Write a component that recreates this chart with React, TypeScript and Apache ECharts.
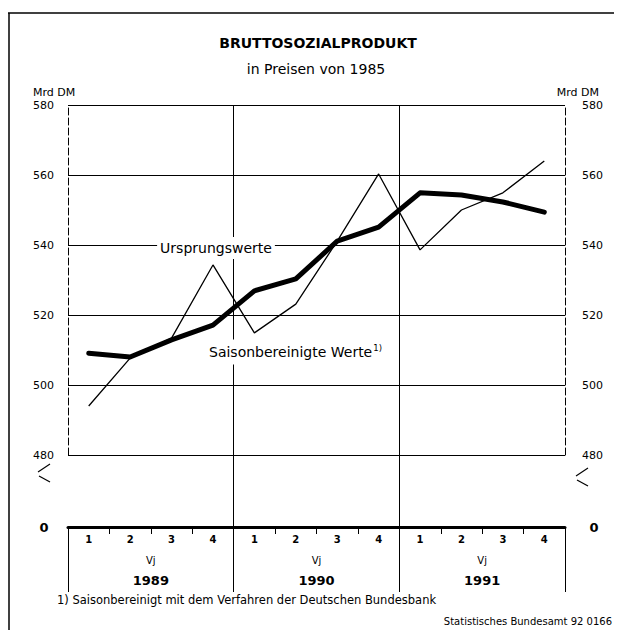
import React, { useEffect, useRef } from "react";
import * as echarts from "echarts";

const quarters = ["1", "2", "3", "4", "1", "2", "3", "4", "1", "2", "3", "4"];
const years = ["1989", "1990", "1991"];
const ursprungswerte = [494, 507.7, 513.4, 534.3, 514.9, 523.1, 541.1, 560.3, 538.6, 550, 554.9, 564];
const saisonbereinigt = [509.1, 508, 512.9, 517.1, 526.9, 530.3, 541.1, 545.1, 554.9, 554.3, 552.3, 549.4];
const yMin = 480;
const yMax = 580;
const yStep = 20;

const FONT = "DejaVu Sans";

export default function App() {
  const ref = useRef<HTMLDivElement>(null);

  useEffect(() => {
    document.body.style.margin = "0";
    const chart = echarts.init(ref.current!, null, { renderer: "svg" });
    const plotGrid = { left: 68, right: 55, top: 105, height: 350 };
    const axisGrid = { left: 68, right: 55, top: 105, height: 422 };
    const black = "#000";
    const breakMark = (x: number, y: number) => [
      { type: "polyline", shape: { points: [[x + 12, y - 8], [x, y]] }, style: { stroke: black, lineWidth: 1.2, fill: "none" } },
      { type: "polyline", shape: { points: [[x + 1, y + 4], [x + 12, y + 10]] }, style: { stroke: black, lineWidth: 1.2, fill: "none" } },
    ];

    chart.setOption({
      animation: false,
      backgroundColor: "#fff",
      textStyle: { fontFamily: FONT, color: black },
      grid: [plotGrid, axisGrid, axisGrid],
      xAxis: [
        { gridIndex: 0, type: "category", data: quarters, boundaryGap: true, show: false },
        {
          gridIndex: 1, type: "value", min: 0, max: 12, interval: 4, position: "top",
          axisLine: { show: false }, axisTick: { show: false }, axisLabel: { show: false },
          splitLine: { show: true, showMinLine: false, showMaxLine: false, lineStyle: { color: black, width: 1 } },
        },
        {
          gridIndex: 1, type: "category", data: quarters, boundaryGap: true, position: "bottom",
          axisLine: { show: true, lineStyle: { color: black, width: 3 } },
          axisTick: { show: true, interval: 0, length: 7, lineStyle: { color: black, width: 1 } },
          axisLabel: { interval: 0, color: black, fontSize: 10, fontWeight: "bold", margin: 7, fontFamily: FONT },
          splitLine: { show: false },
        },
        {
          gridIndex: 2, type: "category", data: years, boundaryGap: true, position: "bottom",
          axisLine: { show: false },
          axisTick: { show: true, interval: 0, length: 65, lineStyle: { color: black, width: 1 } },
          axisLabel: {
            interval: 0, margin: 23,
            formatter: (v: string) => `{v|Vj}\n{y|${v}}`,
            rich: {
              v: { fontSize: 10, color: black, lineHeight: 20, fontFamily: FONT },
              y: { fontSize: 13, fontWeight: "bold", color: black, lineHeight: 20, fontFamily: FONT },
            },
          },
          splitLine: { show: false },
        },
      ],
      yAxis: [
        {
          gridIndex: 0, type: "value", min: yMin, max: yMax, interval: yStep, position: "left",
          axisLine: { show: true, lineStyle: { color: black, width: 1, type: [7, 3] } },
          axisTick: { show: false },
          axisLabel: { color: black, fontSize: 11, margin: 14, fontFamily: FONT },
          splitLine: { show: true, lineStyle: { color: black, width: 1 } },
        },
        {
          gridIndex: 0, type: "value", min: yMin, max: yMax, interval: yStep, position: "right",
          axisLine: { show: true, lineStyle: { color: black, width: 1, type: [7, 3] } },
          axisTick: { show: false },
          axisLabel: { color: black, fontSize: 11, margin: 17, fontFamily: FONT },
          splitLine: { show: false },
        },
        { gridIndex: 1, type: "value", min: 0, max: 1, show: false },
        { gridIndex: 2, type: "value", min: 0, max: 1, show: false },
      ],
      series: [
        {
          type: "line", name: "Ursprungswerte", xAxisIndex: 0, yAxisIndex: 0,
          data: ursprungswerte, symbol: "none", showSymbol: false,
          lineStyle: { color: black, width: 1.3 }, z: 3,
        },
        {
          type: "line", name: "Saisonbereinigte Werte", xAxisIndex: 0, yAxisIndex: 0,
          data: saisonbereinigt, symbol: "none", showSymbol: false,
          lineStyle: { color: black, width: 5, cap: "round", join: "round" }, z: 4,
        },
      ],
      graphic: [
        { type: "line", shape: { x1: 8, y1: 13, x2: 614, y2: 13 }, style: { stroke: black, lineWidth: 1.5 } },
        { type: "line", shape: { x1: 9, y1: 13, x2: 9, y2: 630 }, style: { stroke: black, lineWidth: 1.5 } },
        { type: "text", x: 318, y: 43, style: { text: "BRUTTOSOZIALPRODUKT", font: `bold 14px "${FONT}"`, fill: black, align: "center", verticalAlign: "middle" } },
        { type: "text", x: 316, y: 69, style: { text: "in Preisen von 1985", font: `14px "${FONT}"`, fill: black, align: "center", verticalAlign: "middle" } },
        { type: "text", x: 33, y: 92, style: { text: "Mrd DM", font: `11px "${FONT}"`, fill: black, align: "left", verticalAlign: "middle" } },
        { type: "text", x: 599, y: 92, style: { text: "Mrd DM", font: `11px "${FONT}"`, fill: black, align: "right", verticalAlign: "middle" } },
        { type: "text", x: 44, y: 527, style: { text: "0", font: `bold 13px "${FONT}"`, fill: black, align: "center", verticalAlign: "middle" } },
        { type: "text", x: 594, y: 527, style: { text: "0", font: `bold 13px "${FONT}"`, fill: black, align: "center", verticalAlign: "middle" } },
        ...breakMark(38, 472),
        ...breakMark(576, 476),
        {
          type: "text", x: 216, y: 248, z: 10,
          style: { text: "Ursprungswerte", font: `14px "${FONT}"`, fill: black, align: "center", verticalAlign: "middle", backgroundColor: "#fff", padding: [4, 3] },
        },
        {
          type: "text", x: 206, y: 352, z: 10,
          style: {
            text: "{a|Saisonbereinigte Werte}{s|1)}",
            align: "left", verticalAlign: "middle", backgroundColor: "#fff", padding: [4, 3],
            rich: {
              a: { fontSize: 14, fontFamily: FONT, fill: black, color: black, lineHeight: 17 },
              s: { fontSize: 8.5, fontFamily: FONT, fill: black, color: black, lineHeight: 17, verticalAlign: "top", padding: [0, 0, 0, 1] },
            },
          },
        },
        { type: "text", x: 57, y: 600, style: { text: "1) Saisonbereinigt mit dem Verfahren der Deutschen Bundesbank", font: `11.5px "${FONT}"`, fill: black, align: "left", verticalAlign: "middle" } },
        { type: "text", x: 612, y: 621, style: { text: "Statistisches Bundesamt 92 0166", font: `10px "${FONT}"`, fill: black, align: "right", verticalAlign: "middle" } },
      ],
    });

    return () => chart.dispose();
  }, []);

  return <div ref={ref} style={{ width: 620, height: 630 }} />;
}
